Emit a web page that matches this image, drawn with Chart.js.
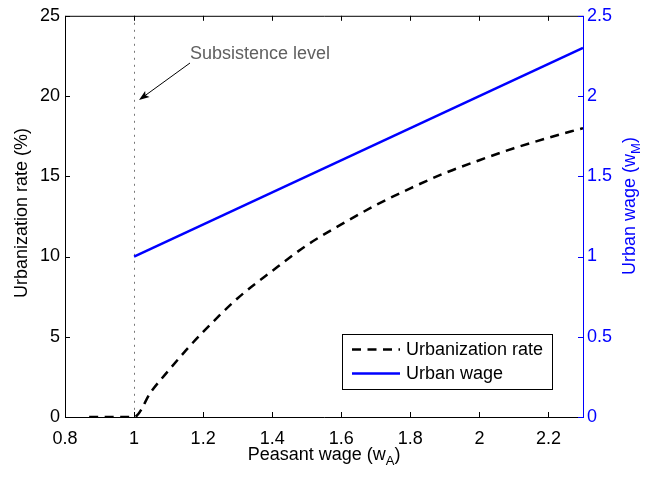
<!DOCTYPE html>
<html>
<head>
<meta charset="utf-8">
<script src="https://cdn.jsdelivr.net/npm/chart.js@4/dist/chart.umd.min.js"></script>
<style>
  body { margin: 0; background: #fff; }
  canvas { display: block; }
</style>
</head>
<body>
<canvas id="chart" width="645" height="478"></canvas>
<script>
// values
const peasantWage = [0.87, 0.9, 0.95, 1.0, 1.05, 1.1, 1.15, 1.2, 1.3, 1.4, 1.5, 1.6, 1.7, 1.8, 1.9, 2.0, 2.1, 2.2, 2.3];
const urbanRate = [0, 0, 0, 0, 1.6, 2.9, 4.15, 5.3, 7.4, 9.1, 10.7, 12.0, 13.2, 14.25, 15.2, 16.0, 16.75, 17.4, 18.0];
const urbanWageX = [1.0, 2.3];
const urbanWage = [1.0, 2.3];

const xTicks = [0.8, 1.0, 1.2, 1.4, 1.6, 1.8, 2.0, 2.2];
const xTickLabels = ['0.8', '1', '1.2', '1.4', '1.6', '1.8', '2', '2.2'];
const leftTicks = [0, 5, 10, 15, 20, 25];
const rightTicks = [0, 0.5, 1, 1.5, 2, 2.5];
const rightTickLabels = ['0', '0.5', '1', '1.5', '2', '2.5'];
const subsistence = 1.0;

const FONT = '"Liberation Sans", Arial, sans-serif';
const BLUE = '#0000ff';

function pts(xs, ys) {
    return xs.map((x, i) => ({ x: x, y: ys[i] }));
}

// draws text with a subscript part, starting at x (left aligned)
function subText(ctx, main, sub, close, x, y) {
    ctx.font = '18px ' + FONT;
    ctx.fillText(main, x, y);
    x += ctx.measureText(main).width;
    ctx.font = '13px ' + FONT;
    ctx.fillText(sub, x, y + 5);
    x += ctx.measureText(sub).width;
    ctx.font = '18px ' + FONT;
    ctx.fillText(close, x, y);
}
function subWidth(ctx, main, sub, close) {
    ctx.font = '18px ' + FONT;
    let w = ctx.measureText(main).width + ctx.measureText(close).width;
    ctx.font = '13px ' + FONT;
    return w + ctx.measureText(sub).width;
}

const decor = {
    id: 'decor',
    beforeDatasetsDraw(chart) {
        const ctx = chart.ctx, a = chart.chartArea;
        const x = Math.round(chart.scales.x.getPixelForValue(subsistence)) + 0.5;
        ctx.save();
        ctx.strokeStyle = '#777';
        ctx.lineWidth = 1;
        ctx.setLineDash([2, 5]);
        ctx.beginPath();
        ctx.moveTo(x, a.top);
        ctx.lineTo(x, a.bottom);
        ctx.stroke();
        ctx.restore();
    },
    afterDraw(chart) {
        const ctx = chart.ctx, a = chart.chartArea;
        const sx = chart.scales.x, sl = chart.scales.y, sr = chart.scales.y1;
        ctx.save();
        // frame
        ctx.lineWidth = 1;
        ctx.strokeStyle = '#000';
        ctx.beginPath();
        ctx.moveTo(a.right, a.top + 0.5);
        ctx.lineTo(a.left + 0.5, a.top + 0.5);
        ctx.lineTo(a.left + 0.5, a.bottom + 0.5);
        ctx.lineTo(a.right, a.bottom + 0.5);
        ctx.stroke();
        // inward ticks
        ctx.beginPath();
        xTicks.forEach(v => {
            const p = Math.round(sx.getPixelForValue(v)) + 0.5;
            ctx.moveTo(p, a.bottom); ctx.lineTo(p, a.bottom - 5);
            ctx.moveTo(p, a.top); ctx.lineTo(p, a.top + 5);
        });
        leftTicks.forEach(v => {
            const p = Math.round(sl.getPixelForValue(v)) + 0.5;
            ctx.moveTo(a.left, p); ctx.lineTo(a.left + 5, p);
        });
        ctx.stroke();
        ctx.strokeStyle = BLUE;
        ctx.beginPath();
        ctx.moveTo(a.right + 0.5, a.top);
        ctx.lineTo(a.right + 0.5, a.bottom + 1);
        rightTicks.forEach(v => {
            const p = Math.round(sr.getPixelForValue(v)) + 0.5;
            ctx.moveTo(a.right, p); ctx.lineTo(a.right - 5, p);
        });
        ctx.stroke();

        // axis titles
        ctx.fillStyle = '#000';
        ctx.textBaseline = 'alphabetic';
        ctx.textAlign = 'left';
        const cx = (a.left + a.right) / 2;
        const wx = subWidth(ctx, 'Peasant wage (w', 'A', ')');
        subText(ctx, 'Peasant wage (w', 'A', ')', cx - wx / 2, 460);

        ctx.save();
        ctx.translate(27, 213);
        ctx.rotate(-Math.PI / 2);
        ctx.font = '18px ' + FONT;
        ctx.textAlign = 'center';
        ctx.fillText('Urbanization rate (%)', 0, 0);
        ctx.restore();

        ctx.save();
        ctx.fillStyle = BLUE;
        ctx.translate(635, 206);
        ctx.rotate(-Math.PI / 2);
        const wr = subWidth(ctx, 'Urban wage (w', 'M', ')');
        subText(ctx, 'Urban wage (w', 'M', ')', -wr / 2, 0);
        ctx.restore();

        // annotation
        ctx.fillStyle = '#606060';
        ctx.font = '18px ' + FONT;
        ctx.fillText('Subsistence level', 190, 59);
        const x0 = 190, y0 = 63, x1 = 139, y1 = 100;
        const ang = Math.atan2(y1 - y0, x1 - x0);
        ctx.strokeStyle = '#000';
        ctx.fillStyle = '#000';
        ctx.beginPath();
        ctx.moveTo(x0, y0);
        ctx.lineTo(x1 - 6 * Math.cos(ang), y1 - 6 * Math.sin(ang));
        ctx.stroke();
        ctx.beginPath();
        ctx.moveTo(x1, y1);
        ctx.lineTo(x1 - 11 * Math.cos(ang - 0.35), y1 - 11 * Math.sin(ang - 0.35));
        ctx.lineTo(x1 - 8 * Math.cos(ang), y1 - 8 * Math.sin(ang));
        ctx.lineTo(x1 - 11 * Math.cos(ang + 0.35), y1 - 11 * Math.sin(ang + 0.35));
        ctx.closePath();
        ctx.fill();

        // legend
        ctx.fillStyle = '#fff';
        ctx.fillRect(342, 334, 210, 55);
        ctx.strokeStyle = '#000';
        ctx.lineWidth = 1;
        ctx.strokeRect(342.5, 334.5, 210, 55);
        chart.data.datasets.forEach((ds, i) => {
            const y = 349.5 + i * 24;
            ctx.strokeStyle = ds.borderColor;
            ctx.lineWidth = ds.borderWidth;
            ctx.setLineDash(ds.borderDash || []);
            ctx.beginPath();
            ctx.moveTo(352, y);
            ctx.lineTo(400, y);
            ctx.stroke();
            ctx.setLineDash([]);
            ctx.fillStyle = '#000';
            ctx.textBaseline = 'middle';
            ctx.font = '18px ' + FONT;
            ctx.fillText(ds.label, 406, y + 1);
        });
        ctx.restore();
    }
};

new Chart(document.getElementById('chart'), {
    type: 'line',
    data: {
        datasets: [{
            label: 'Urbanization rate',
            data: pts(peasantWage, urbanRate),
            yAxisID: 'y',
            borderColor: '#000',
            borderWidth: 2.5,
            borderDash: [9, 6.5],
            pointRadius: 0,
            cubicInterpolationMode: 'monotone',
            fill: false
        }, {
            label: 'Urban wage',
            data: pts(urbanWageX, urbanWage),
            yAxisID: 'y1',
            borderColor: BLUE,
            borderWidth: 2.5,
            pointRadius: 0,
            fill: false
        }]
    },
    options: {
        responsive: false,
        animation: false,
        devicePixelRatio: 1,
        layout: { padding: { top: 13, left: 0, right: 0, bottom: 0 } },
        plugins: { legend: { display: false }, tooltip: { enabled: false } },
        scales: {
            x: {
                type: 'linear',
                min: 0.8, max: 2.3,
                grid: { display: false, drawTicks: false },
                border: { display: false },
                afterBuildTicks: s => { s.ticks = xTicks.map(v => ({ value: v })); },
                afterFit: s => { s.height = 61; },
                ticks: {
                    color: '#000', padding: 11,
                    font: { family: FONT, size: 18 },
                    maxRotation: 0,
                    callback: (v) => xTickLabels[xTicks.findIndex(t => Math.abs(t - v) < 1e-6)]
                }
            },
            y: {
                position: 'left',
                min: 0, max: 25,
                grid: { display: false, drawTicks: false },
                border: { display: false },
                afterBuildTicks: s => { s.ticks = leftTicks.map(v => ({ value: v })); },
                afterFit: s => { s.width = 65; },
                ticks: { color: '#000', padding: 5, font: { family: FONT, size: 18 } }
            },
            y1: {
                position: 'right',
                min: 0, max: 2.5,
                grid: { display: false, drawTicks: false },
                border: { display: false },
                afterBuildTicks: s => { s.ticks = rightTicks.map(v => ({ value: v })); },
                afterFit: s => { s.width = 62; },
                ticks: {
                    color: BLUE, padding: 4,
                    font: { family: FONT, size: 18 },
                    callback: (v) => rightTickLabels[rightTicks.findIndex(t => Math.abs(t - v) < 1e-6)]
                }
            }
        }
    },
    plugins: [decor]
});
</script>
</body>
</html>
